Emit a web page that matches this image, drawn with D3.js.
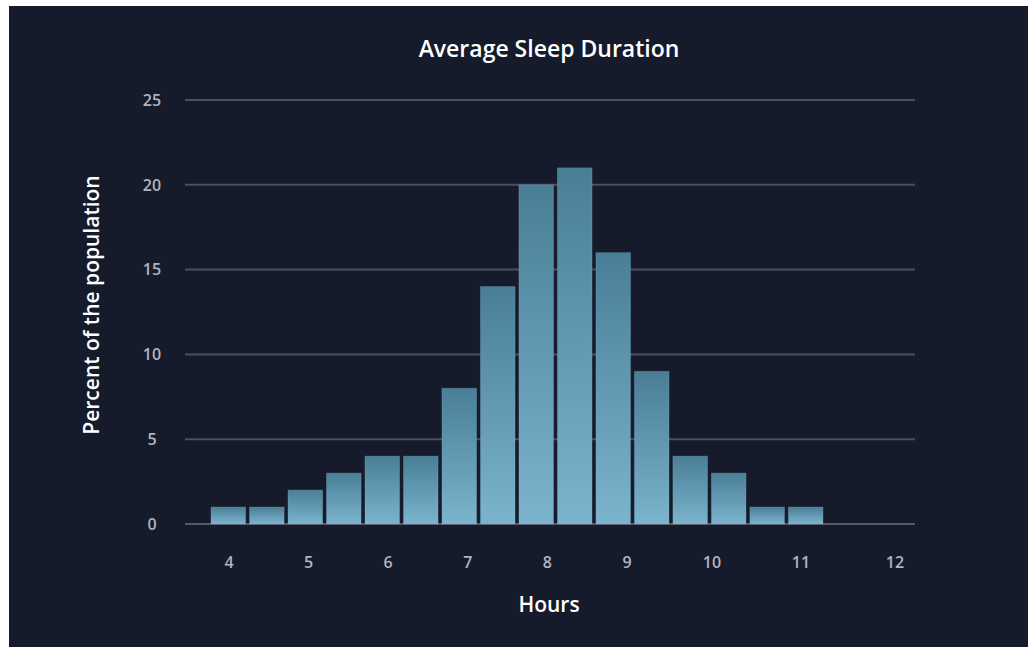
<!DOCTYPE html>
<html>
<head>
<meta charset="utf-8">
<script src="https://cdn.jsdelivr.net/npm/d3@7"></script>
<style>
  html, body { margin: 0; padding: 0; background: #ffffff; }
  svg { display: block; }
  text { font-family: "Open Sans", "Noto Sans", sans-serif; }
</style>
</head>
<body>
<svg id="chart" width="1028" height="647"></svg>
<script>
// Half-hour sleep bins (start of each bin, in hours)
const bins = [4, 4.5, 5, 5.5, 6, 6.5, 7, 7.5, 8, 8.5, 9, 9.5, 10, 10.5, 11, 11.5];
// Share of the population in each bin (%)
const percents = [1, 1, 2, 3, 4, 4, 8, 14, 20, 21, 16, 9, 4, 3, 1, 1];
// Hour labels along the bottom
const hourTicks = [4, 5, 6, 7, 8, 9, 10, 11, 12];
// Value axis ticks
const yTicks = [0, 5, 10, 15, 20, 25];

const W = 1028, H = 647;
const panel = { x: 9, y: 6 };
const plot = { left: 185, right: 915, top: 100, bottom: 524 };

const svg = d3.select("#chart");

svg.append("rect")
  .attr("x", panel.x).attr("y", panel.y)
  .attr("width", W - panel.x).attr("height", H - panel.y)
  .attr("fill", "#161b2b");

// Each bar fades from a deeper teal at its top to a pale blue at its base
const defs = svg.append("defs");
const grad = defs.append("linearGradient")
  .attr("id", "barGrad")
  .attr("x1", 0).attr("y1", 0).attr("x2", 0).attr("y2", 1);
grad.append("stop").attr("offset", "0%").attr("stop-color", "#4a7e97");
grad.append("stop").attr("offset", "100%").attr("stop-color", "#7bb4cc");

const y = d3.scaleLinear().domain([0, 25]).range([plot.bottom, plot.top]);

const x = d3.scaleBand()
  .domain(bins)
  .range([plot.left + 26, plot.left + 638])
  .paddingInner(0.1)
  .paddingOuter(0);

// Hour label positions widen slightly toward the right end of the axis
const hourX = d3.scaleLinear()
  .domain([4, 9, 10, 11, 12])
  .range([229, 627, 712, 801, 895]);

// Gridlines
svg.append("g").selectAll("line")
  .data(yTicks)
  .join("line")
  .attr("x1", plot.left).attr("x2", plot.right)
  .attr("y1", d => y(d)).attr("y2", d => y(d))
  .attr("stroke", d => d === 0 ? "#555a6a" : "#4a4f60")
  .attr("stroke-width", 2);

// Y tick labels
svg.append("g").selectAll("text")
  .data(yTicks)
  .join("text")
  .attr("x", 152)
  .attr("y", d => y(d))
  .attr("dy", "0.36em")
  .attr("text-anchor", "middle")
  .attr("fill", "#b0b4bf")
  .attr("font-size", 16)
  .attr("font-weight", 600)
  .text(d => d);

// Bars
svg.append("g").selectAll("rect")
  .data(bins.map((b, i) => ({ bin: b, value: percents[i] })))
  .join("rect")
  .attr("x", d => x(d.bin))
  .attr("width", x.bandwidth())
  .attr("y", d => y(d.value))
  .attr("height", d => y(0) - y(d.value))
  .attr("fill", "url(#barGrad)")
  .attr("stroke", "#86bcd3")
  .attr("stroke-opacity", 0.25)
  .attr("stroke-width", 1);

// Hour labels
svg.append("g").selectAll("text")
  .data(hourTicks)
  .join("text")
  .attr("x", d => hourX(d))
  .attr("y", 562)
  .attr("dy", "0.36em")
  .attr("text-anchor", "middle")
  .attr("fill", "#b0b4bf")
  .attr("font-size", 16)
  .attr("font-weight", 600)
  .text(d => d);

// Title
svg.append("text")
  .attr("x", 549).attr("y", 57)
  .attr("text-anchor", "middle")
  .attr("fill", "#ffffff")
  .attr("font-size", 23)
  .attr("font-weight", 600)
  .text("Average Sleep Duration");

// Axis titles
svg.append("text")
  .attr("x", 549).attr("y", 612)
  .attr("text-anchor", "middle")
  .attr("fill", "#ffffff")
  .attr("font-size", 21)
  .attr("font-weight", 600)
  .text("Hours");

svg.append("text")
  .attr("transform", "translate(99,305) rotate(-90)")
  .attr("text-anchor", "middle")
  .attr("fill", "#ffffff")
  .attr("font-size", 21)
  .attr("font-weight", 600)
  .text("Percent of the population");
</script>
</body>
</html>
